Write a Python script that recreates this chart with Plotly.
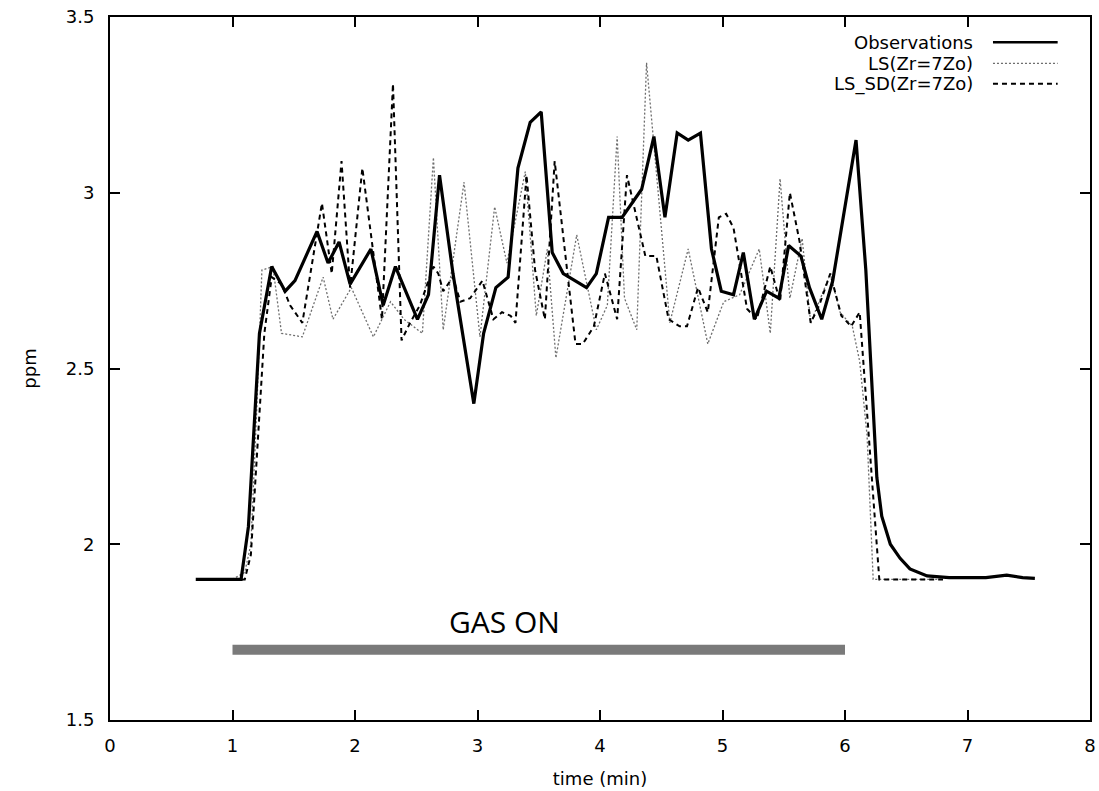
import plotly.graph_objects as go

# Observations
obs_t = [0.70, 0.80, 0.90, 1.00, 1.07, 1.13, 1.22, 1.32, 1.43, 1.51, 1.69, 1.78, 1.87, 1.96,
         2.13, 2.23, 2.33, 2.51, 2.60, 2.69, 2.80, 2.97, 3.05, 3.15, 3.25, 3.33, 3.43, 3.52,
         3.61, 3.70, 3.80, 3.89, 3.97, 4.07, 4.18, 4.26, 4.34, 4.44, 4.53, 4.63, 4.72, 4.82,
         4.91, 4.99, 5.09, 5.17, 5.26, 5.36, 5.46, 5.54, 5.64, 5.71, 5.81, 5.90, 6.09, 6.17,
         6.22, 6.26, 6.30, 6.37, 6.45, 6.53, 6.67, 6.85, 7.00, 7.15, 7.32, 7.45, 7.55]
obs_v = [1.90, 1.90, 1.90, 1.90, 1.90, 2.05, 2.60, 2.79, 2.72, 2.75, 2.89, 2.80, 2.86, 2.74,
         2.84, 2.68, 2.79, 2.64, 2.71, 3.05, 2.77, 2.40, 2.60, 2.73, 2.76, 3.07, 3.20, 3.23,
         2.83, 2.77, 2.75, 2.73, 2.77, 2.93, 2.93, 2.97, 3.01, 3.16, 2.93, 3.17, 3.15, 3.17,
         2.84, 2.72, 2.71, 2.83, 2.64, 2.72, 2.70, 2.85, 2.82, 2.73, 2.64, 2.75, 3.15, 2.78,
         2.45, 2.19, 2.08, 2.00, 1.96, 1.93, 1.91, 1.905, 1.905, 1.905, 1.912, 1.905, 1.903]

# LS(Zr=7Zo)
ls_t = [1.00, 1.10, 1.15, 1.20, 1.24, 1.33, 1.40, 1.57, 1.74, 1.82, 1.97, 2.15, 2.29, 2.40,
        2.55, 2.64, 2.72, 2.89, 3.02, 3.14, 3.24, 3.39, 3.48, 3.57, 3.64, 3.81, 3.97, 4.06,
        4.14, 4.20, 4.30, 4.38, 4.57, 4.72, 4.88, 5.01, 5.14, 5.30, 5.39, 5.47, 5.55, 5.65,
        5.72, 5.88, 5.96, 6.06, 6.12, 6.18, 6.23, 6.50, 6.80]
ls_v = [1.90, 1.92, 2.00, 2.40, 2.78, 2.79, 2.60, 2.59, 2.76, 2.64, 2.73, 2.59, 2.69, 2.64,
        2.60, 3.10, 2.61, 3.03, 2.59, 2.96, 2.80, 3.06, 2.65, 2.84, 2.53, 2.88, 2.61, 2.68,
        3.16, 2.70, 2.61, 3.37, 2.63, 2.84, 2.57, 2.69, 2.71, 2.84, 2.60, 3.04, 2.70, 2.87,
        2.63, 2.77, 2.66, 2.62, 2.52, 2.31, 1.90, 1.90, 1.90]

# LS_SD(Zr=7Zo)
sd_t = [1.00, 1.10, 1.15, 1.20, 1.26, 1.32, 1.40, 1.47, 1.57, 1.73, 1.81, 1.89, 1.96, 2.06,
        2.22, 2.31, 2.38, 2.45, 2.53, 2.64, 2.68, 2.72, 2.80, 2.86, 2.94, 3.04, 3.13, 3.20,
        3.27, 3.31, 3.40, 3.47, 3.55, 3.63, 3.80, 3.86, 3.95, 4.04, 4.14, 4.22, 4.34, 4.37,
        4.46, 4.56, 4.65, 4.71, 4.80, 4.88, 4.97, 5.03, 5.09, 5.20, 5.28, 5.39, 5.47, 5.55,
        5.63, 5.72, 5.79, 5.88, 5.97, 6.05, 6.12, 6.28, 6.50, 6.80]
sd_v = [1.90, 1.90, 1.97, 2.25, 2.60, 2.76, 2.74, 2.68, 2.63, 2.97, 2.77, 3.09, 2.73, 3.07,
        2.64, 3.31, 2.58, 2.63, 2.68, 2.79, 2.77, 2.72, 2.76, 2.69, 2.70, 2.75, 2.64, 2.66,
        2.65, 2.63, 3.05, 2.78, 2.64, 3.09, 2.57, 2.57, 2.62, 2.77, 2.64, 3.05, 2.86, 2.82,
        2.82, 2.64, 2.62, 2.62, 2.73, 2.66, 2.93, 2.94, 2.90, 2.67, 2.64, 2.79, 2.69, 3.00,
        2.86, 2.63, 2.68, 2.77, 2.65, 2.62, 2.66, 1.90, 1.90, 1.90]

# Gas-on period
gas_t = [1.0, 6.0]
gas_level = [1.7, 1.7]
gas_label = "GAS ON"
gas_label_pos = (3.22, 1.78)

legend_names = ["Observations", "LS(Zr=7Zo)", "LS_SD(Zr=7Zo)"]

FONT = "DejaVu Sans"
obs_style = dict(color="black", width=3.2)
ls_style = dict(color="#6e6e6e", width=1.3, dash="2px,2px")
sd_style = dict(color="black", width=2, dash="5px,4px")

fig = go.Figure()
fig.add_trace(go.Scatter(x=gas_t, y=gas_level, mode="lines",
                         line=dict(color="#7a7a7a", width=10), showlegend=False))
fig.add_trace(go.Scatter(x=ls_t, y=ls_v, mode="lines", line=ls_style, name=legend_names[1],
                         showlegend=False))
fig.add_trace(go.Scatter(x=sd_t, y=sd_v, mode="lines", line=sd_style, name=legend_names[2],
                         showlegend=False))
fig.add_trace(go.Scatter(x=obs_t, y=obs_v, mode="lines", line=obs_style, name=legend_names[0],
                         showlegend=False))

fig.add_annotation(x=gas_label_pos[0], y=gas_label_pos[1], text=gas_label, showarrow=False,
                   font=dict(family="Open Sans", size=30, color="black"))

# manual legend (text to the left of sample lines)
leg_y = [0.964, 0.934, 0.905]
leg_styles = [obs_style, ls_style, sd_style]
for name, yy, st in zip(legend_names, leg_y, leg_styles):
    fig.add_annotation(xref="paper", yref="paper", x=0.883, y=yy, text=name, showarrow=False,
                       xanchor="right", yanchor="middle",
                       font=dict(family=FONT, size=18, color="black"))
    lst = dict(st)
    if lst.get("width", 1) > 2.5:
        lst["width"] = 2.4
    fig.add_shape(type="line", xref="paper", yref="paper", x0=0.901, x1=0.967, y0=yy, y1=yy,
                  line=lst)

axis_common = dict(showline=True, linecolor="black", linewidth=2, mirror="ticks",
                   ticks="inside", ticklen=10, tickwidth=1.5, tickcolor="black",
                   showgrid=False, zeroline=False, automargin=False,
                   tickfont=dict(family=FONT, size=18, color="black"))

fig.update_layout(
    width=1099, height=791,
    margin=dict(l=110, r=9, t=17, b=71),
    plot_bgcolor="white", paper_bgcolor="white",
    xaxis=dict(range=[0, 8], dtick=1, tick0=0, ticklabelstandoff=8,
               title=dict(text="time (min)", font=dict(family=FONT, size=18, color="black"),
                          standoff=18),
               **axis_common),
    yaxis=dict(range=[1.5, 3.5], dtick=0.5, tick0=1.5, ticklabelstandoff=10,
               title=dict(text="ppm", font=dict(family=FONT, size=18, color="black"),
                          standoff=24),
               **axis_common),
)

fig.write_html("out.html", config={"displayModeBar": False},
               post_script="document.body.style.margin='0';document.body.style.padding='0';")
